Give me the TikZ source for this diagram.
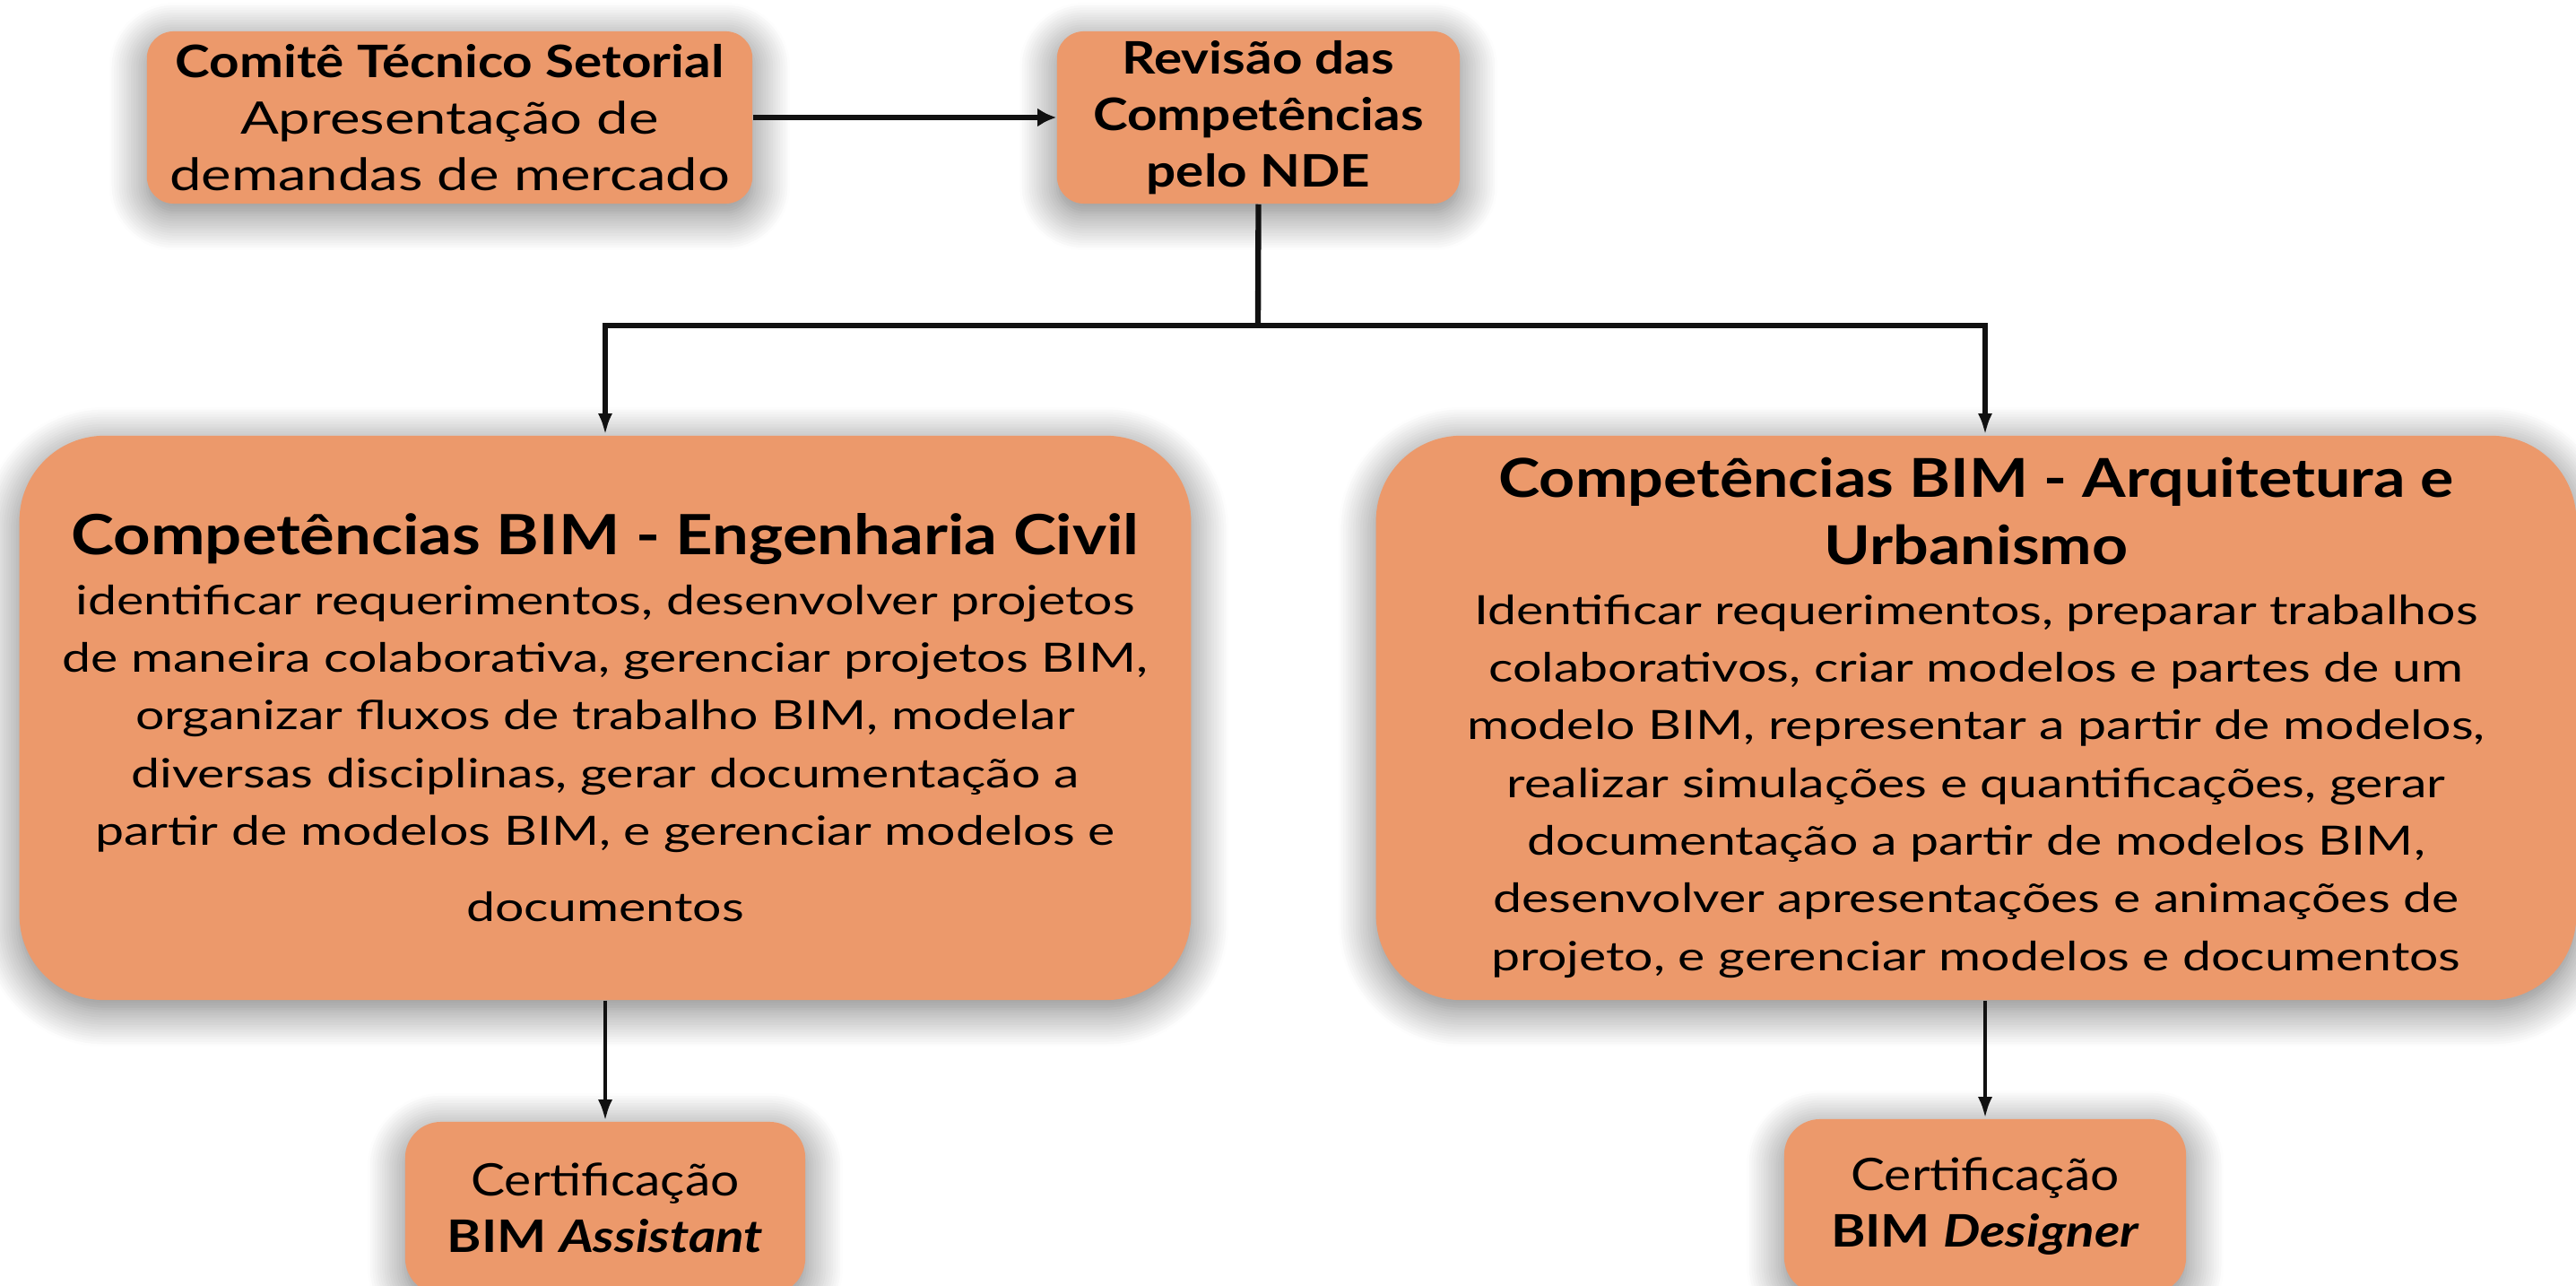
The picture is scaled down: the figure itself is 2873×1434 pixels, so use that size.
\documentclass[tikz,border=0pt]{standalone}
\usepackage{fontspec}
\setmainfont{Lato}[FakeStretch=1.27,
  BoldFeatures={FakeStretch=1.17},
  BoldItalicFeatures={FakeStretch=1.17}]
\newfontface\certfont{Lato}[FakeStretch=1.14]
\usetikzlibrary{arrows.meta,shadows.blur,calc}
\definecolor{boxfill}{RGB}{236,153,107}
\definecolor{linecol}{RGB}{17,17,17}
\newcommand\fbody{\fontsize{12.8pt}{18.3pt}\selectfont}
\newcommand\ftitle{\fontsize{17.6pt}{21.6pt}\selectfont\bfseries}
\newcommand\ftitleb{\fontsize{17.0pt}{21.6pt}\selectfont\bfseries}
\newcommand\fsmall{\fontsize{14.2pt}{17.9pt}\selectfont}
\begin{document}
\begin{tikzpicture}[x=0.01cm,y=-0.01cm,
  box/.style={fill=boxfill,draw=none,inner sep=0pt,align=center,
    blur shadow={shadow xshift=0pt,shadow yshift=-0.1cm,shadow blur radius=0.42cm,
      shadow blur steps=16,shadow opacity=55}},
  smallbox/.style={box,rounded corners=0.3cm,font=\fsmall},
  bigbox/.style={box,rounded corners=0.95cm,font=\fbody},
  conn/.style={draw=linecol,line width=1.8pt},
  darrow/.style={draw=linecol,line width=1.4pt,-{Latex[length=2.4mm,width=1.6mm]}},
  harrow/.style={draw=linecol,line width=1.8pt,-{Latex[length=2.1mm,width=2.1mm]}}]
\useasboundingbox (0,0) rectangle (2873,1434);
\node[smallbox,minimum width=6.75cm,minimum height=1.92cm] (cts) at (501.5,131)
  {\textbf{Comitê Técnico Setorial}\\Apresentação de\\demandas de mercado};
\node[smallbox,minimum width=4.49cm,minimum height=1.92cm,font=\fsmall\bfseries] (rev) at (1403.5,131)
  {Revisão das\\Competências\\pelo NDE};
\node[bigbox,minimum width=13.06cm,minimum height=6.29cm] (ec) at (675,800.5)
  {{\ftitle Competências BIM - Engenharia Civil}\\[0.6pt]
   identificar requerimentos, desenvolver projetos\\
   de maneira colaborativa, gerenciar projetos BIM,\\
   organizar fluxos de trabalho BIM, modelar\\
   diversas disciplinas, gerar documentação a\\
   partir de modelos BIM, e gerenciar modelos e\\[6pt]
   documentos};
\node[bigbox,minimum width=13.38cm,minimum height=6.29cm] (au) at (2204,800.5)
  {{\ftitleb Competências BIM - Arquitetura e}\\[3pt]
   {\ftitleb Urbanismo}\\[0.6pt]
   Identificar requerimentos, preparar trabalhos\\
   colaborativos, criar modelos e partes de um\\
   modelo BIM, representar a partir de modelos,\\
   realizar simulações e quantificações, gerar\\
   documentação a partir de modelos BIM,\\
   desenvolver apresentações e animações de\\
   projeto, e gerenciar modelos e documentos};
\node[smallbox,minimum width=4.46cm,minimum height=1.92cm,rounded corners=0.4cm] (ca) at (675,1347)
  {{\certfont Certificação}\\\textbf{BIM \textit{Assistant}}};
\node[smallbox,minimum width=4.48cm,minimum height=1.94cm,rounded corners=0.4cm] (cd) at (2214,1345)
  {{\certfont Certificação}\\\textbf{BIM \textit{Designer}}};
\coordinate (bj) at (1403,363);
\draw[harrow] (cts) -- (rev);
\draw[conn] (rev.south) -- (bj);
\draw[conn,-{Latex[length=2.4mm,width=1.6mm]}] (bj) -| (ec.north);
\draw[conn,-{Latex[length=2.4mm,width=1.6mm]}] (bj) -| (cd.north |- au.north);
\draw[darrow] (ec.south) -- (ca.north);
\draw[darrow] (cd.north |- au.south) -- (cd.north);
\end{tikzpicture}
\end{document}
